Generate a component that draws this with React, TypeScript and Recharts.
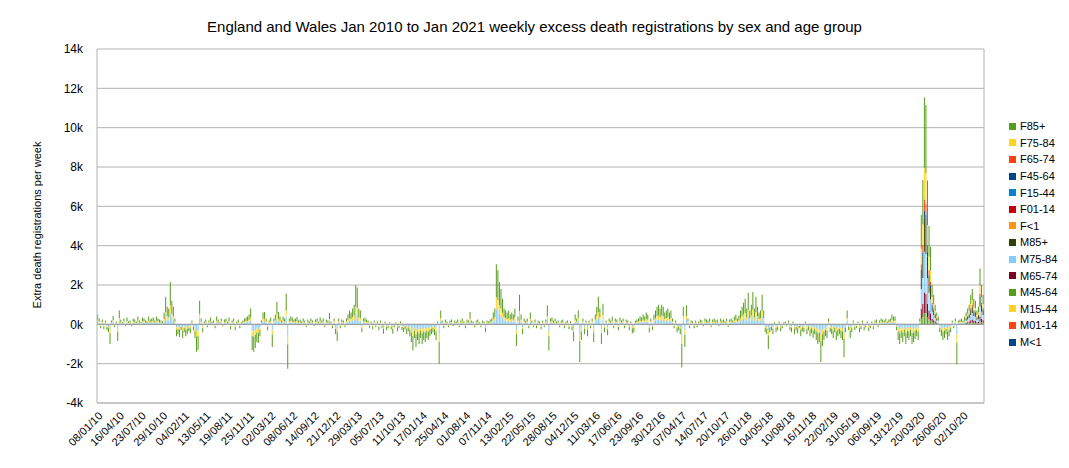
import React from 'react';
import { BarChart, Bar, XAxis, YAxis, CartesianGrid, ReferenceLine } from 'recharts';

// week 0 = 08/01/10, one bar per week up to 01/01/21
const TICK_LABELS = [
  '08/01/10', '16/04/10', '23/07/10', '29/10/10', '04/02/11', '13/05/11', '19/08/11', '25/11/11',
  '02/03/12', '08/06/12', '14/09/12', '21/12/12', '29/03/13', '05/07/13', '11/10/13', '17/01/14',
  '25/04/14', '01/08/14', '07/11/14', '13/02/15', '22/05/15', '28/08/15', '04/12/15', '11/03/16',
  '17/06/16', '23/09/16', '30/12/16', '07/04/17', '14/07/17', '20/10/17', '26/01/18', '04/05/18',
  '10/08/18', '16/11/18', '22/02/19', '31/05/19', '06/09/19', '13/12/19', '20/03/20', '26/06/20',
  '02/10/20',
];
const WEEKS = 574;
const Y_TICKS = [-4000, -2000, 0, 2000, 4000, 6000, 8000, 10000, 12000, 14000];

// main series, every week
const M75_84 = [
  130,80,-50,60,-60,50,-80,-100,-250,50,110,-40,40,-210,180,60,30,80,-30,90,40,50,-30,80,60,40,100,50,30,90,80,50,40,100,60,80,90,50,100,80,60,50,40,150,350,230,200,540,300,230,80,
  -150,-130,-160,-80,-180,-100,-150,-130,-90,-110,50,-80,-180,-350,-330,300,80,-100,40,60,-40,50,90,40,50,-50,100,60,30,80,-30,60,80,40,90,-60,50,80,-80,40,60,-50,30,50,80,90,100,130,200,-330,-350,-300,-230,
  -240,-150,50,150,160,80,-80,50,90,-290,80,130,290,160,100,50,100,80,390,-570,80,100,90,60,80,90,50,60,40,80,50,-40,60,40,80,50,-30,60,80,40,90,50,80,-40,60,50,150,40,-50,80,-130,-210,
  80,-50,60,50,-40,80,130,180,150,200,250,500,470,200,180,-100,80,90,60,50,-50,40,-60,50,-40,40,-80,50,-50,-120,40,-80,-50,30,-60,-120,-40,30,-90,-50,40,-80,-100,-60,-130,-90,-150,-230,-330,-180,-290,-200,-250,-180,
  -250,-200,-230,-180,-200,-150,-130,-100,-140,-200,40,-500,180,50,-50,60,40,-40,50,60,-30,50,40,60,-40,50,80,40,-50,60,50,160,50,40,-40,50,60,30,-40,50,40,-100,50,40,60,80,150,200,770,690,540,450,330,
  200,180,150,180,130,150,130,200,-280,100,380,130,-130,80,50,80,-50,150,50,-40,60,-50,50,40,-60,50,-40,60,240,-330,80,90,50,80,40,50,-40,50,60,-50,40,50,-60,40,-80,-210,130,80,180,-480,-200,80,-130,
  50,-150,50,-50,80,-230,130,230,350,200,-250,260,-100,50,-140,80,50,100,-50,80,60,-80,90,50,80,-50,60,50,-80,40,-110,-100,50,60,80,100,90,130,100,150,130,-100,80,-80,130,180,230,250,200,250,230,150,180,
  200,150,180,80,-50,50,-100,-80,-130,-550,230,-290,240,80,-50,50,40,-50,50,-40,40,60,50,-30,80,60,50,80,-40,60,80,50,60,-30,80,50,60,40,80,-40,60,80,50,100,130,80,110,180,230,280,330,200,400,
  180,250,410,200,350,230,150,180,380,180,-100,-130,-310,-100,-80,-130,30,-100,-80,40,-90,-50,30,40,-30,50,-80,-100,40,-130,-80,-110,-50,-150,-90,-100,40,-130,-80,-150,-110,-180,-130,-200,-250,-230,-480,-280,-200,-150,-180,80,-100,
  -130,-180,-100,-200,-150,-130,-180,-200,-420,-100,180,-80,-180,-100,50,-80,-50,40,-100,-60,50,-80,-40,40,-90,-50,40,-60,50,60,-40,50,80,60,50,80,40,60,80,130,100,100,-80,-200,-250,-180,-230,-150,-250,-180,-200,-150,-250,-230,-190,-150,-200,
  80,1000,1320,2070,2010,1310,900,710,360,270,180,110,100,-100,-150,-200,-180,-130,-200,-150,-100,50,-50,80,-510,50,60,80,50,100,110,140,180,270,320,230,220,130,160,510,360,270,
];
const F75_84 = [
  100,60,-40,50,-50,40,-60,-80,-200,40,90,-30,30,-170,140,50,20,60,-20,70,30,40,-20,60,50,30,80,40,20,70,60,40,30,80,50,60,70,40,80,60,50,40,30,120,280,180,160,430,240,180,60,
  -120,-100,-130,-60,-140,-80,-120,-100,-70,-90,40,-60,-140,-280,-260,240,60,-80,30,50,-30,40,70,30,40,-40,80,50,20,60,-20,50,60,30,70,-50,40,60,-60,30,50,-40,20,40,60,70,80,100,160,-260,-280,-240,-180,
  -190,-120,40,120,130,60,-60,40,70,-230,60,100,230,130,80,40,80,60,310,-450,60,80,70,50,60,70,40,50,30,60,40,-30,50,30,60,40,-20,50,60,30,70,40,60,-30,50,40,120,30,-40,60,-100,-170,
  60,-40,50,40,-30,60,100,140,120,160,200,400,370,160,140,-80,60,70,50,40,-40,30,-50,40,-30,30,-60,40,-40,-100,30,-60,-40,20,-50,-100,-30,20,-70,-40,30,-60,-80,-50,-100,-70,-120,-180,-270,-140,-230,-160,-200,-140,
  -200,-160,-180,-140,-160,-120,-100,-80,-110,-160,30,-400,140,40,-40,50,30,-30,40,50,-20,40,30,50,-30,40,60,30,-40,50,40,130,40,30,-30,40,50,20,-30,40,30,-80,40,30,50,60,120,160,610,550,430,360,260,
  160,140,120,140,100,120,100,160,-220,80,300,100,-100,60,40,60,-40,120,40,-30,50,-40,40,30,-50,40,-30,50,190,-270,60,70,40,60,30,40,-30,40,50,-40,30,40,-50,30,-60,-170,100,60,140,-380,-160,60,-100,
  40,-120,40,-40,60,-180,100,180,280,160,-200,210,-80,40,-110,60,40,80,-40,60,50,-60,70,40,60,-40,50,40,-60,30,-90,-80,40,50,60,80,70,100,80,120,100,-80,60,-60,100,140,180,200,160,200,180,120,140,
  160,120,140,60,-40,40,-80,-60,-100,-440,180,-230,190,60,-40,40,30,-40,40,-30,30,50,40,-20,60,50,40,60,-30,50,60,40,50,-20,60,40,50,30,60,-30,50,60,40,80,100,60,90,140,180,220,260,160,320,
  140,200,330,160,280,180,120,140,300,140,-80,-100,-250,-80,-60,-100,20,-80,-60,30,-70,-40,20,30,-20,40,-60,-80,30,-100,-60,-90,-40,-120,-70,-80,30,-100,-60,-120,-90,-140,-100,-160,-200,-180,-380,-220,-160,-120,-140,60,-80,
  -100,-140,-80,-160,-120,-100,-140,-160,-330,-80,140,-60,-140,-80,40,-60,-40,30,-80,-50,40,-60,-30,30,-70,-40,30,-50,40,50,-30,40,60,50,40,60,30,50,60,100,80,80,-60,-160,-200,-140,-180,-120,-200,-140,-160,-120,-200,-180,-150,-120,-160,
  60,780,1030,1610,1560,1020,700,550,280,210,140,80,80,-80,-120,-160,-140,-100,-160,-120,-80,40,-40,60,-410,40,50,60,40,80,80,110,140,210,250,180,170,100,130,400,280,210,
];
const F85_PLUS = [
  270,160,-110,140,-140,110,-160,-220,-550,110,230,-80,80,-470,380,140,50,160,-50,190,80,110,-50,160,140,80,220,110,50,190,160,110,80,220,140,160,190,110,220,160,140,110,80,330,770,490,440,1180,660,490,160,
  -330,-270,-360,-160,-380,-220,-330,-270,-190,-250,110,-160,-380,-770,-710,660,160,-220,80,140,-80,110,190,80,110,-110,220,140,50,160,-50,140,160,80,190,-140,110,160,-160,80,140,-110,50,110,160,190,220,270,440,-710,-770,-660,-490,
  -520,-330,110,330,340,160,-160,110,190,-630,160,270,630,340,220,110,220,160,870,-1240,160,220,190,140,160,210,110,140,80,160,110,-80,140,80,160,110,-50,140,160,80,190,110,160,-80,140,110,310,80,-110,160,-270,-470,
  160,-110,140,110,-80,160,270,380,330,440,550,1100,1030,440,380,-220,160,190,140,110,-110,80,-140,110,-80,80,-160,110,-110,-260,80,-160,-110,50,-140,-260,-80,50,-190,-110,80,-160,-220,-140,-270,-190,-330,-490,-730,-380,-630,-440,-550,-380,
  -550,-440,-490,-380,-440,-330,-270,-220,-300,-440,80,-1100,380,110,-110,140,80,-80,110,140,-50,110,80,140,-80,110,160,80,-110,140,110,340,110,80,-80,110,140,50,-80,110,80,-220,110,80,140,160,330,440,1680,1510,1180,990,710,
  440,380,330,380,270,330,270,440,-600,220,820,270,-270,160,110,160,-110,330,110,-80,140,-110,110,80,-140,110,-80,140,540,-730,160,190,110,160,80,110,-80,110,140,-110,80,110,-140,80,-160,-470,270,160,380,-1060,-440,160,-270,
  110,-330,110,-110,160,-490,270,490,770,440,-550,580,-220,110,-310,160,110,220,-110,160,140,-160,190,110,160,-110,140,110,-160,80,-250,-220,110,140,160,220,190,270,220,330,270,-220,160,-160,270,380,490,550,440,550,490,330,380,
  440,330,380,160,-110,110,-220,-160,-270,-1210,490,-630,540,160,-110,110,80,-110,110,-80,80,140,110,-50,160,140,110,160,-80,140,160,110,140,-50,160,110,140,80,160,-80,140,160,110,220,270,160,250,380,490,600,710,440,880,
  380,550,910,440,770,490,330,380,820,380,-220,-270,-690,-220,-160,-270,50,-220,-160,80,-190,-110,50,80,-50,110,-160,-220,80,-270,-160,-250,-110,-330,-190,-220,80,-270,-160,-330,-250,-380,-270,-440,-550,-490,-1060,-600,-440,-330,-380,160,-220,
  -270,-380,-220,-440,-330,-270,-380,-440,-920,-220,380,-160,-380,-220,110,-160,-110,80,-220,-140,110,-160,-80,80,-190,-110,80,-140,110,140,-80,110,160,140,110,160,80,140,160,270,220,220,-160,-440,-550,-380,-490,-330,-550,-380,-440,-330,-550,-490,-410,-330,-440,
  160,1720,2270,3570,3460,2260,1550,1220,620,470,310,190,220,-220,-330,-440,-380,-270,-440,-330,-220,110,-110,160,-1120,110,140,160,110,220,190,250,310,470,560,400,370,220,280,880,620,470,
];

// smaller groups, only from 20/03/20 (week 532) onwards
const COVID_FROM = 532;
const M45_64 = [0,280,370,580,560,370,250,200,100,80,50,30, 0,0,0,0,0,0,0,0,0,0,0,0,0,0,0,0,0,0, 30,40,50,80,90,70,60,40,50,140,100,80];
const M65_74 = [0,500,660,1040,1000,660,450,350,180,130,90,50, 0,0,0,0,0,0,0,0,0,0,0,0,0,0,0,0,0,0, 50,70,90,130,160,120,110,60,80,260,180,130];
const M85_PLUS = [0,830,1100,1730,1670,1100,750,590,300,220,150,90, 0,0,0,0,0,0,0,0,0,0,0,0,0,0,0,0,0,0, 90,120,150,220,270,200,180,100,140,430,300,220];
const F45_64 = [0,170,220,350,330,220,150,120,60,50,30,20, 0,0,0,0,0,0,0,0,0,0,0,0,0,0,0,0,0,0, 20,30,30,50,60,40,40,20,30,90,60,50];
const F65_74 = [0,280,370,580,560,370,250,200,100,70,50,30, 0,0,0,0,0,0,0,0,0,0,0,0,0,0,0,0,0,0, 30,40,50,70,90,60,50,30,30,130,100,70];
const EMPTY: number[] = [];

const SERIES = [
  { key: 'M<1', color: '#004586', values: EMPTY, from: 0 },
  { key: 'M01-14', color: '#ff420e', values: EMPTY, from: 0 },
  { key: 'M15-44', color: '#ffd320', values: EMPTY, from: 0 },
  { key: 'M45-64', color: '#579d1c', values: M45_64, from: COVID_FROM },
  { key: 'M65-74', color: '#7e0021', values: M65_74, from: COVID_FROM },
  { key: 'M75-84', color: '#83caff', values: M75_84, from: 0 },
  { key: 'M85+', color: '#314004', values: M85_PLUS, from: COVID_FROM },
  { key: 'F<1', color: '#ff950e', values: EMPTY, from: 0 },
  { key: 'F01-14', color: '#c5000b', values: EMPTY, from: 0 },
  { key: 'F15-44', color: '#0084d1', values: EMPTY, from: 0 },
  { key: 'F45-64', color: '#004586', values: F45_64, from: COVID_FROM },
  { key: 'F65-74', color: '#ff420e', values: F65_74, from: COVID_FROM },
  { key: 'F75-84', color: '#ffd320', values: F75_84, from: 0 },
  { key: 'F85+', color: '#579d1c', values: F85_PLUS, from: 0 },
];

const data = Array.from({ length: WEEKS }, (_, i) => {
  const row: Record<string, number | undefined> = { week: i };
  SERIES.forEach((s) => {
    row[s.key] = s.values[i - s.from];
  });
  return row;
});

const font = '"Liberation Sans", Arial, sans-serif';

function Legend() {
  const items = [...SERIES].reverse();
  return (
    <div style={{ position: 'absolute', left: 1009, top: 118, fontFamily: font, fontSize: 11, color: '#000' }}>
      {items.map((s) => (
        <div key={s.key} style={{ display: 'flex', alignItems: 'center', height: 16.6 }}>
          <span style={{ width: 7, height: 7, background: s.color, marginRight: 4 }} />
          <span>{s.key}</span>
        </div>
      ))}
    </div>
  );
}

export default function App() {
  return (
    <div style={{ position: 'absolute', left: 0, top: 0, width: 1069, height: 468, background: '#fff', fontFamily: font }}>
      <div style={{ position: 'absolute', left: 0, width: 1069, top: 18, textAlign: 'center', fontSize: 15, color: '#000' }}>
        England and Wales Jan 2010 to Jan 2021 weekly excess death registrations by sex and age group
      </div>
      <div style={{
        position: 'absolute', left: 37, top: 225, transform: 'translate(-50%, -50%) rotate(-90deg)',
        whiteSpace: 'nowrap', fontSize: 11, color: '#000',
      }}>
        Extra death registrations per week
      </div>
      <BarChart
        width={1069}
        height={468}
        data={data}
        stackOffset="sign"
        barCategoryGap="10%"
        margin={{ top: 49, right: 85, bottom: 5, left: 0 }}
      >
        <CartesianGrid stroke="#b3b3b3" verticalPoints={[984]} />
        <XAxis
          dataKey="week"
          interval={13}
          height={60}
          angle={-45}
          textAnchor="end"
          tickLine={false}
          axisLine={{ stroke: '#b3b3b3' }}
          tick={{ fontSize: 11, fill: '#000', fontFamily: font }}
          tickFormatter={(v: number) => TICK_LABELS[v / 14] ?? ''}
        />
        <YAxis
          width={97}
          domain={[-4000, 14000]}
          ticks={Y_TICKS}
          tickLine={false}
          axisLine={{ stroke: '#b3b3b3' }}
          tick={{ fontSize: 12, fill: '#000', fontFamily: font }}
          tickFormatter={(v: number) => `${v / 1000}k`}
          tickMargin={8}
        />
        <ReferenceLine y={0} stroke="#999" />
        {SERIES.map((s) => (
          <Bar key={s.key} dataKey={s.key} stackId="a" fill={s.color} isAnimationActive={false} />
        ))}
      </BarChart>
      <Legend />
    </div>
  );
}
